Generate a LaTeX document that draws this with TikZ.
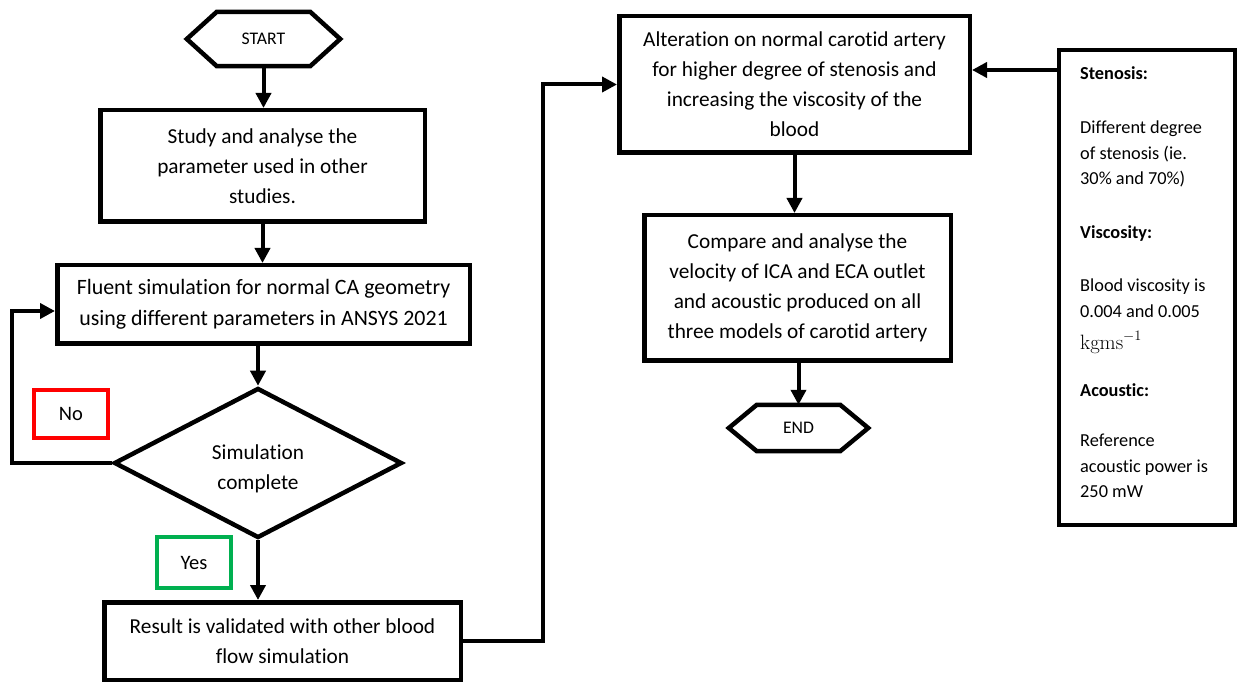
\documentclass[tikz,border=0pt]{standalone}
\usepackage[no-math]{fontspec}
\setmainfont{Carlito}[RawFeature={-liga;-clig;-calt;-dlig}]
\usetikzlibrary{arrows.meta,shapes.geometric,calc}
\definecolor{nored}{RGB}{255,0,0}
\definecolor{yesgreen}{RGB}{0,176,80}
\begin{document}
\begin{tikzpicture}[x=1pt,y=-1pt,
  box/.style={draw, line width=4.5pt, rectangle, align=center, inner sep=0pt,
    font=\fontsize{21.3}{30}\selectfont},
  hexnode/.style={rectangle, inner sep=0pt, font=\fontsize{17.7}{21}\selectfont},
  hexline/.style={line width=4.5pt, line join=miter},
  decision/.style={draw, diamond, aspect=2, line width=4.5pt, inner sep=0pt},
  dectxt/.style={align=center, inner sep=0pt, font=\fontsize{21.3}{30}\selectfont},
  tag/.style={draw, line width=4pt, rectangle, inner sep=0pt, font=\fontsize{20.5}{24}\selectfont},
  conn/.style={line width=4pt, -{Triangle[length=15pt,width=15pt]}},
  sidetxt/.style={align=left, inner sep=0pt, font=\fontsize{18.3}{25.5}\selectfont}]
\useasboundingbox (0,0) rectangle (1237,684);

% START
\node[hexnode, minimum width=153, minimum height=54] (start) at (263.5,39) {START};
\draw[hexline] (start.west) -- ([xshift=30pt]start.north west) -- ([xshift=-30pt]start.north east)
  -- (start.east) -- ([xshift=-30pt]start.south east) -- ([xshift=30pt]start.south west) -- cycle;

\node[box, minimum width=324.5, minimum height=111.5] (b1) at (262.5,166)
  {Study and analyse the\\parameter used in other\\studies.};
\node[box, minimum width=412.5, minimum height=78.5, font=\fontsize{21.9}{31}\selectfont] (b2) at (263.5,304.5)
  {Fluent simulation for normal CA geometry\\using different parameters in ANSYS 2021};
\node[decision, minimum width=288, minimum height=150] (dec) at (258,463) {};
\node[dectxt] (dect) at (258,469) {Simulation\\complete};
\node[tag, draw=nored, minimum width=74, minimum height=48] (no) at (71,414) {No};
\node[tag, draw=yesgreen, minimum width=74, minimum height=51] (yes) at (194,562.5) {Yes};
\node[box, minimum width=356.5, minimum height=77.5] (b3) at (282.5,641)
  {Result is validated with other blood\\flow simulation};
\node[box, minimum width=350.5, minimum height=136.5] (b4) at (794.5,84.5)
  {Alteration on normal carotid artery\\for higher degree of stenosis and\\increasing the viscosity of the\\blood};
\node[box, minimum width=306.5, minimum height=145.5] (b5) at (797.5,288)
  {Compare and analyse the\\velocity of ICA and ECA outlet\\and acoustic produced on all\\three models of carotid artery};

% END
\node[hexnode, minimum width=139, minimum height=46] (end) at (798.5,428) {END};
\draw[hexline] (end.west) -- ([xshift=28pt]end.north west) -- ([xshift=-28pt]end.north east)
  -- (end.east) -- ([xshift=-28pt]end.south east) -- ([xshift=28pt]end.south west) -- cycle;

% side box
\node[draw, line width=4pt, rectangle, minimum width=176, minimum height=475] (side) at (1147,287.5) {};
\node[sidetxt, anchor=north west] (st) at (1080,66.5)
  {\textbf{Stenosis:}\\[28.5pt]
   Different degree\\
   of stenosis (ie.\\
   30\% and 70\%)\\[28.5pt]
   \textbf{Viscosity:}\\[27.5pt]
   Blood viscosity is\\
   0.004 and 0.005\\[7pt]
   {\fontsize{19.5}{25.5}\selectfont$\mathrm{kgms}^{-1}$}\\[21.5pt]
   \textbf{Acoustic:}\\[24.5pt]
   Reference\\
   acoustic power is\\
   250 mW};

% connectors
\draw[conn] (start.south) -- (start.south |- b1.north);
\draw[conn] (b1.south) -- (b1.south |- b2.north);
\draw[conn] (dec.north |- b2.south) -- (dec.north);
\draw[conn] (dec.west) -- ++(-100,0) |- ([yshift=-6.5pt]b2.west);
\draw[conn] (dec.south) -- (dec.south |- b3.north);
\draw[conn] (b3.east) -- ++(80,0) |- (b4.west);
\draw[conn] (b4.south) -- (b4.south |- b5.north);
\draw[conn] (b5.south -| end.north) -- (end.north);
\coordinate (sa) at ([yshift=-22pt]side.north west);
\draw[conn] (sa) -- (sa -| b4.east);
\end{tikzpicture}
\end{document}
